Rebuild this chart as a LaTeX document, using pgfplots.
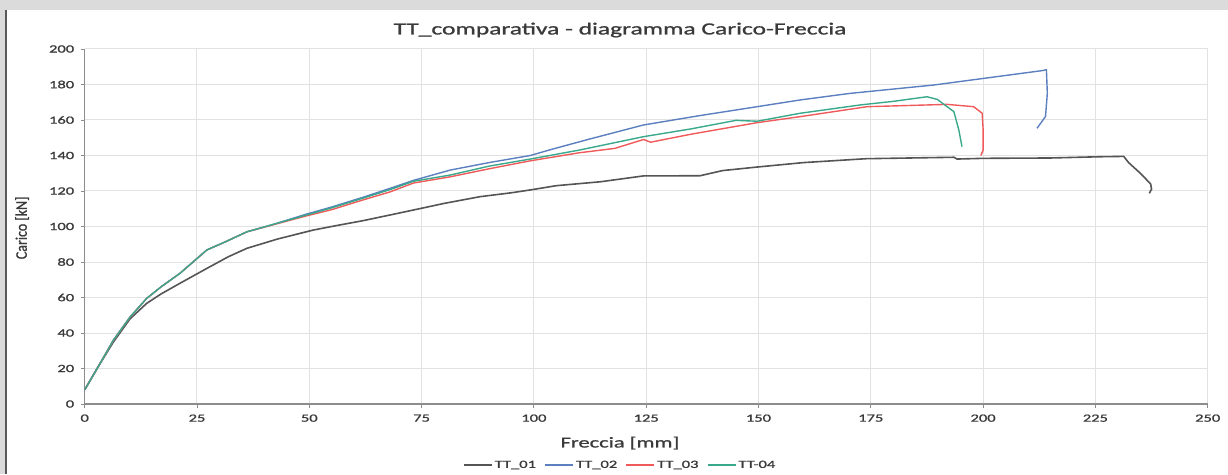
\documentclass[border=0pt]{standalone}
\usepackage{fontspec}
\setmainfont{Carlito}[FakeStretch=1.5, FakeBold=1.2]
\newfontfamily\plainfont{Carlito}[FakeBold=1.2]
\usepackage{pgfplots}
\pgfplotsset{compat=1.18}

\definecolor{tt01}{HTML}{555555}
\definecolor{tt02}{HTML}{5B7FBF}
\definecolor{tt03}{HTML}{F05A5A}
\definecolor{tt04}{HTML}{3AA88A}
\definecolor{gridc}{HTML}{E2E2E2}
\definecolor{axisc}{HTML}{8C8C8C}
\definecolor{txt}{HTML}{3A3A3A}

\begin{document}
\begin{tikzpicture}
	% fixed page size, same as the screenshot
	\path[use as bounding box, clip] (0pt,0pt) rectangle (1228pt,474pt);
	% grey frame of the screenshot
	\fill[gray!28] (0pt,464pt) rectangle (1228pt,474pt);
	\fill[gray!28] (0pt,0pt) rectangle (5pt,464pt);
	\draw[gray!70!black, line width=1.5pt] (6pt,0pt) -- (6pt,464pt);

	\node[text=txt, font=\fontsize{17}{20}\selectfont] at (620pt,444pt) {TT\_comparativa - diagramma Carico-Freccia};

	\begin{axis}[
		at={(84.7pt,70pt)}, anchor=south west,
		scale only axis,
		width=1123pt, height=355pt,
		xmin=0, xmax=250, ymin=0, ymax=200,
		xtick={0,25,...,250},
		ytick={0,20,...,200},
		axis x line*=bottom, axis y line*=left,
		axis line style={axisc, line width=1.2pt},
		tick align=outside, major tick length=4pt,
		tick style={axisc, line width=0.8pt},
		grid=major,
		grid style={gridc, line width=1pt},
		/pgf/number format/assume math mode=true,
		ticklabel style={text=txt, font=\fontsize{11}{13}\selectfont},
		xticklabel style={yshift=-3pt},
		yticklabel style={xshift=-3pt},
		xlabel={Freccia [mm]},
		xlabel style={at={(axis description cs:0.4767,-0.11)}, anchor=center, text=txt, font=\fontsize{15}{18}\selectfont},
		ylabel={\scalebox{1}[1.15]{\plainfont Carico [kN]}},
		ylabel style={at={(axis description cs:-0.0558,0.496)}, anchor=center, text=txt, font=\fontsize{14}{16}\selectfont},
		legend columns=4,
		legend style={at={(0.4767,-0.172)}, anchor=center, draw=none, fill=none,
			font=\fontsize{11}{13}\selectfont, text=txt,
			/tikz/every even column/.append style={column sep=6pt}},
		legend image code/.code={\draw[#1, line width=2pt] (0pt,0pt) -- (28pt,0pt);},
		]

		% TT_01
		\addplot[tt01, line width=1.6pt] coordinates {
			(0,8) (3,21) (6.4,35) (10.1,48) (13.8,56.7) (17,62) (21.2,68) (27.2,76.4)
			(32,83) (36.1,87.7) (43,93) (50.9,98) (56,100.5) (62,103.3) (68,106.5)
			(73.2,109.3) (80,113) (88,116.8) (95,119) (99.2,120.6) (105,123)
			(114.8,125.2) (124.4,128.5) (137,128.6) (142,131.5) (149.7,133.5)
			(160,136) (174,138.2) (193.5,139) (194.2,138) (200,138.4) (215,138.6)
			(226,139.3) (231.3,139.5) (232.4,136) (235,130) (237.3,124) (237.5,121) (237,118.7)
		};
		\addlegendentry{TT\_01}

		% TT_02
		\addplot[tt02, line width=1.4pt] coordinates {
			(0,8) (3,21) (6.4,36) (10.1,49) (13.8,59.5) (17,66) (21.2,73.6) (27.2,86.8)
			(31,91) (36.1,97) (42,101.2) (49.4,107) (55,111) (62,116.5) (68,121.5)
			(73.2,126) (81.4,131.8) (90,136) (99.2,140) (104,143.5) (112,149)
			(124.4,157.2) (137,162.5) (149.7,167.5) (159.3,171.3) (170.4,175)
			(189,179.7) (213.1,187.8) (214.1,188.3) (214.3,175) (213.9,162) (212,155.3)
		};
		\addlegendentry{TT\_02}

		% TT_03
		\addplot[tt03, line width=1.4pt] coordinates {
			(0,8) (3,21) (6.4,36) (10.1,49) (13.8,59.5) (17,66) (21.2,73.6) (27.2,86.8)
			(31,91) (36.1,97) (42,101) (49.4,106) (55,109.5) (62,115) (68,119.5)
			(73.2,124.5) (81.4,128) (90,132.5) (99.2,137) (110,141.5) (118,144)
			(124.4,149) (126,147.5) (135,152) (149.7,158.5) (159.3,161.9)
			(174.2,167.5) (192,168.8) (197.9,167.5) (199.8,163.8) (200,155) (200,143) (199.5,140)
		};
		\addlegendentry{TT\_03}

		% TT-04
		\addplot[tt04, line width=1.4pt] coordinates {
			(0,8) (3,21) (6.4,36) (10.1,49) (13.8,59.5) (17,66) (21.2,73.6) (27.2,86.8)
			(31,91) (36.1,97) (42,101.2) (49.4,106.5) (55,110.5) (62,116) (68,120.8)
			(73.2,125.5) (81.4,129) (90,134) (99.2,138) (110,143) (124.4,150.6)
			(135,155) (145,159.8) (149.7,159.3) (159.3,163.8) (172.7,168.5)
			(180,170.5) (187.5,173.1) (189.8,171.6) (193.5,164.7) (194.6,154.4) (195.3,145)
		};
		\addlegendentry{TT-04}
	\end{axis}
\end{tikzpicture}
\end{document}
